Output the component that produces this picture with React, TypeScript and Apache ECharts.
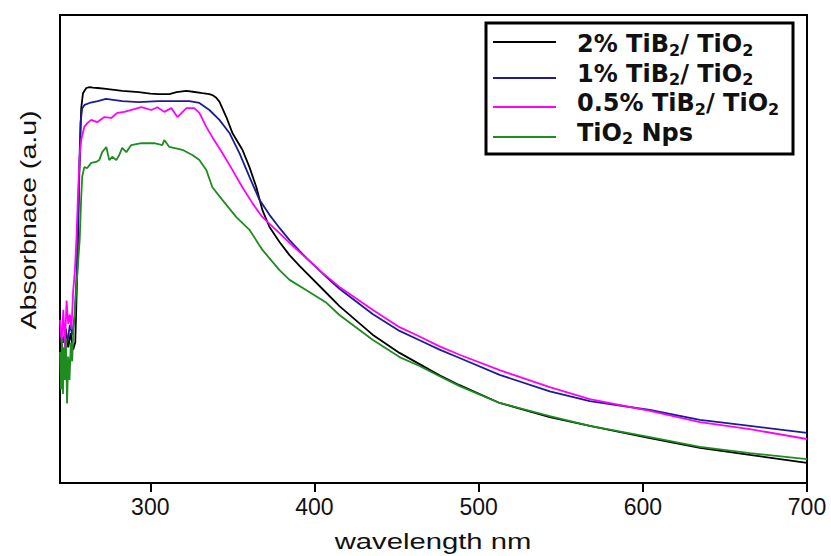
import React, { useEffect, useRef } from "react";
import * as echarts from "echarts";

// Tick labels of the wavelength axis
const xTicks = [300, 400, 500, 600, 700];

// 2% TiB2/TiO2
const wl2 = [245, 247, 248.5, 250, 251.5, 253, 254.3, 255.5, 256.7, 257.9, 259, 261, 263, 265, 268, 273, 283, 293, 300, 305, 311.6, 316, 322, 326, 331.7, 336, 337.8, 340.2, 342.1, 346.3, 350, 356.1, 360.4, 364.6, 368.3, 372.6, 378.7, 384.8, 390.9, 407.3, 415.2, 435.4, 451.8, 464, 476.2, 488.4, 512.8, 543.3, 567.7, 604.3, 634.8, 665.2, 700];
const ab2 = [0.316, 0.3, 0.33, 0.29, 0.32, 0.285, 0.3, 0.45, 0.65, 0.8, 0.833, 0.844, 0.846, 0.845, 0.844, 0.842, 0.838, 0.835, 0.832, 0.831, 0.831, 0.835, 0.838, 0.836, 0.833, 0.831, 0.829, 0.823, 0.815, 0.782, 0.748, 0.712, 0.675, 0.632, 0.583, 0.547, 0.515, 0.487, 0.464, 0.406, 0.378, 0.317, 0.278, 0.254, 0.23, 0.209, 0.171, 0.141, 0.122, 0.096, 0.075, 0.06, 0.043];

// 1% TiB2/TiO2
const wl1 = [245, 246.5, 248, 249.5, 251, 252.5, 254, 255.3, 256.5, 257.5, 258.5, 260, 263, 268, 273, 283, 293, 305, 311.6, 323.8, 329.9, 336, 342.1, 348.2, 354.3, 360.4, 366.5, 372.6, 378.7, 384.8, 390.9, 395.1, 407.3, 415.2, 435.4, 451.8, 464, 476.2, 488.4, 512.8, 543.3, 567.7, 604.3, 634.8, 665.2, 700];
const ab1 = [0.327, 0.3, 0.315, 0.3, 0.338, 0.316, 0.36, 0.46, 0.647, 0.77, 0.8, 0.808, 0.812, 0.816, 0.821, 0.816, 0.814, 0.816, 0.816, 0.816, 0.812, 0.797, 0.776, 0.748, 0.705, 0.654, 0.605, 0.573, 0.545, 0.519, 0.496, 0.481, 0.44, 0.415, 0.361, 0.325, 0.305, 0.285, 0.267, 0.231, 0.196, 0.175, 0.156, 0.135, 0.122, 0.107];

// 0.5% TiB2/TiO2
const wl05 = [245, 246, 247, 248, 249, 250, 251, 252, 253, 254, 255, 256, 257, 257.9, 259.8, 261.6, 264, 267.6, 272, 276.2, 279.9, 284.1, 290.2, 294.5, 300.6, 304.3, 308.5, 312.8, 316.5, 322, 326.8, 329.9, 334.1, 337.8, 343.9, 350, 356.1, 362.2, 368.3, 378.7, 384.8, 404.9, 415.2, 435.4, 451.8, 464, 476.2, 488.4, 512.8, 543.3, 567.7, 604.3, 634.8, 665.2, 700];
const ab05 = [0.348, 0.3, 0.37, 0.29, 0.39, 0.34, 0.36, 0.33, 0.41, 0.45, 0.52, 0.62, 0.7, 0.733, 0.761, 0.769, 0.776, 0.771, 0.782, 0.78, 0.791, 0.793, 0.799, 0.803, 0.797, 0.803, 0.793, 0.801, 0.782, 0.801, 0.801, 0.791, 0.761, 0.739, 0.705, 0.669, 0.632, 0.598, 0.568, 0.534, 0.513, 0.449, 0.419, 0.37, 0.333, 0.313, 0.292, 0.274, 0.241, 0.205, 0.179, 0.154, 0.13, 0.115, 0.094];

// TiO2 Nps
const wlT = [245, 245.6, 246.2, 246.8, 247.4, 248, 248.6, 249.3, 250, 250.8, 251.6, 252.4, 253.2, 254, 255, 256, 257, 257.8, 258.5, 259.8, 261.6, 264, 267, 268.9, 270.7, 273.2, 275, 276.8, 279.3, 281.1, 282.9, 285.4, 288.4, 294.5, 302.4, 307.3, 308.5, 311.6, 319.5, 325.6, 329.9, 334.1, 337.8, 343.9, 352.4, 360.4, 368.3, 378.7, 384.8, 395.1, 407.3, 415.2, 435.4, 451.8, 464, 476.2, 488.4, 512.8, 543.3, 567.7, 604.3, 634.8, 665.2, 700];
const abT = [0.28, 0.2, 0.31, 0.19, 0.29, 0.22, 0.31, 0.17, 0.27, 0.22, 0.3, 0.26, 0.33, 0.36, 0.42, 0.47, 0.52, 0.6, 0.654, 0.675, 0.673, 0.684, 0.686, 0.69, 0.707, 0.718, 0.69, 0.697, 0.69, 0.701, 0.716, 0.707, 0.722, 0.726, 0.726, 0.722, 0.733, 0.718, 0.712, 0.701, 0.69, 0.669, 0.632, 0.605, 0.568, 0.541, 0.498, 0.455, 0.434, 0.412, 0.385, 0.359, 0.306, 0.269, 0.25, 0.228, 0.207, 0.171, 0.143, 0.122, 0.098, 0.077, 0.064, 0.051];

const seriesNames = ["2% TiB2/ TiO2", "1% TiB2/ TiO2", "0.5% TiB2/ TiO2", "TiO2 Nps"];
const seriesColors = ["#000000", "#1c1c96", "#ff00ff", "#1e8c1e"];
const seriesX = [wl2, wl1, wl05, wlT];
const seriesY = [ab2, ab1, ab05, abT];

const legendRich = [
  "{a|2% TiB}{s|2}{a|/ TiO}{s|2}",
  "{a|1% TiB}{s|2}{a|/ TiO}{s|2}",
  "{a|0.5% TiB}{s|2}{a|/ TiO}{s|2}",
  "{a|TiO}{s|2}{a| Nps}",
];
const legendTextY = [44, 73.5, 103, 132.5];
const legendLineY = [42, 78, 107, 137];

export default function App() {
  const ref = useRef<HTMLDivElement>(null);
  useEffect(() => {
    if (!ref.current) return;
    const chart = echarts.init(ref.current, null, { renderer: "svg" });
    const rich = {
      a: { fontSize: 24, fontWeight: "bold", fontFamily: "DejaVu Sans", fill: "#111", color: "#111", lineHeight: 28 },
      s: { fontSize: 16, fontWeight: "bold", fontFamily: "DejaVu Sans", fill: "#111", color: "#111", lineHeight: 16, padding: [12, 0, 0, 0], verticalAlign: "bottom" },
    };
    const graphic: any[] = [
      {
        type: "text",
        x: 28,
        y: 220,
        rotation: Math.PI / 2,
        scaleX: 1.3,
        style: { text: "Absorbnace (a.u)", fontSize: 22, fontFamily: "Liberation Sans, Arial", fill: "#111", align: "center", verticalAlign: "middle" },
      },
      {
        type: "text",
        x: 433,
        y: 541,
        scaleX: 1.33,
        style: { text: "wavelength nm", fontSize: 22, fontFamily: "Liberation Sans, Arial", fill: "#111", align: "center", verticalAlign: "middle" },
      },
      {
        type: "rect",
        shape: { x: 486, y: 23, width: 307, height: 131 },
        style: { fill: "#fff", stroke: "#000", lineWidth: 3 },
        z: 10,
      },
    ];
    seriesNames.forEach((_, i) => {
      graphic.push({
        type: "line",
        shape: { x1: 493, y1: legendLineY[i], x2: 556, y2: legendLineY[i] },
        style: { stroke: seriesColors[i], lineWidth: 2 },
        z: 11,
      });
      graphic.push({
        type: "text",
        x: 577,
        y: legendTextY[i],
        z: 11,
        style: { text: legendRich[i], rich, align: "left", verticalAlign: "middle" },
      });
    });

    chart.setOption({
      animation: false,
      grid: { left: 60, right: 24, top: 15, bottom: 73, show: true, borderColor: "#000", borderWidth: 2 },
      xAxis: {
        type: "value",
        min: 245,
        max: 700,
        axisLine: { show: true, lineStyle: { color: "#000", width: 2 } },
        axisTick: { show: true, customValues: xTicks, length: 9, lineStyle: { color: "#000", width: 2 } },
        axisLabel: { customValues: xTicks, fontSize: 23, fontFamily: "Liberation Sans, Arial", color: "#111", margin: 12 },
        splitLine: { show: false },
      },
      yAxis: { type: "value", min: 0, max: 1, show: false, splitLine: { show: false } },
      series: seriesNames.map((name, i) => ({
        name,
        type: "line",
        symbol: "none",
        showSymbol: false,
        lineStyle: { color: seriesColors[i], width: 1.8 },
        itemStyle: { color: seriesColors[i] },
        data: seriesX[i].map((x, j) => [x, seriesY[i][j]]),
      })),
      graphic,
    });
    return () => chart.dispose();
  }, []);
  return <div ref={ref} style={{ width: 831, height: 556, position: "absolute", left: 0, top: 0 }} />;
}
